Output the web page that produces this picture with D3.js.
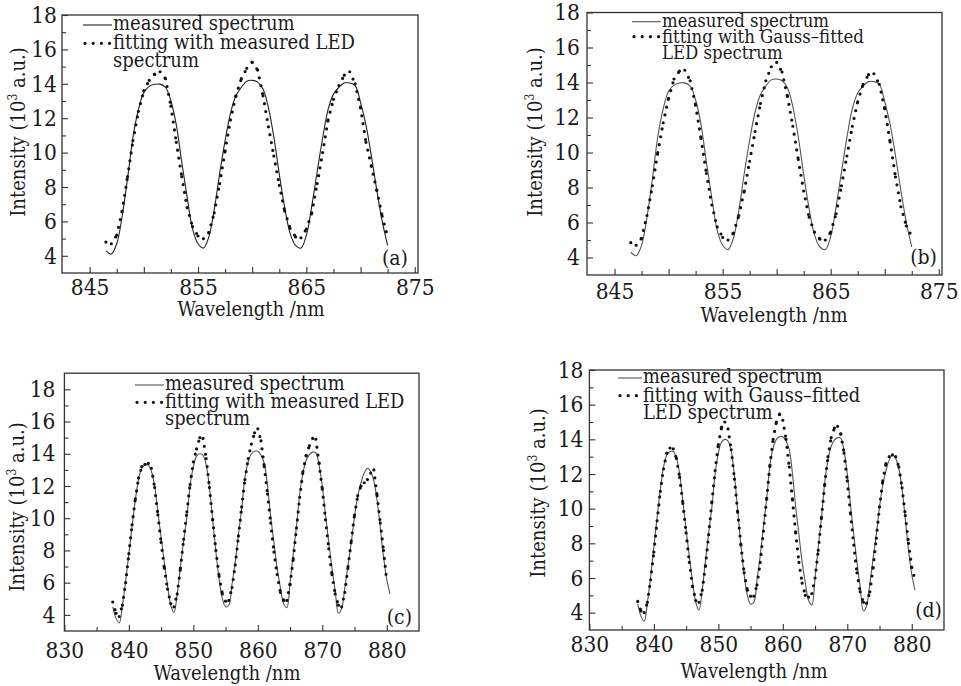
<!DOCTYPE html>
<html>
<head>
<meta charset="utf-8">
<script src="https://cdn.jsdelivr.net/npm/d3@7"></script>
<style>
  body { margin: 0; background: #fff; }
  svg { display: block; }
  text { font-family: "DejaVu Serif Condensed", "DejaVu Serif", serif; font-stretch: condensed; fill: #1a1a1a; }
</style>
</head>
<body>
<div id="wrapper"></div>
<script>

// ---- data: panels (a),(b) share one measured spectrum, (c),(d) another ----
const wavelengthAB = [846.5, 847, 847.5, 848, 848.5, 849, 849.5, 850, 850.5, 851,
  851.5, 852, 852.5, 853, 853.5, 854, 854.5, 855, 855.5, 856,
  856.5, 857, 857.5, 858, 858.5, 859, 859.5, 860, 860.5, 861,
  861.5, 862, 862.5, 863, 863.5, 864, 864.5, 865, 865.5, 866,
  866.5, 867, 867.5, 868, 868.5, 869, 869.5, 870, 870.5, 871,
  871.5, 872, 872.5]

const measuredAB = [4.3, 4.1, 4.7, 6.3, 8.5, 10.9, 12.5, 13.5, 13.85, 13.97,
  13.98, 13.8, 13.0, 11.6, 9.45, 7.4, 5.55, 4.7, 4.45, 5.1,
  6.7, 8.8, 10.7, 12.3, 13.3, 13.8, 14.15, 14.2, 14.1, 13.7,
  12.6, 10.9, 8.75, 6.8, 5.3, 4.6, 4.45, 5.2, 6.9, 8.9,
  10.85, 12.5, 13.4, 13.8, 14.05, 14.05, 13.9, 12.9, 11.6, 9.8,
  7.8, 6.0, 4.6]

const fitMeasuredLedA = [4.8, 4.7, 5.2, 6.6, 8.6, 10.7, 12.4, 13.6, 14.2, 14.55,
  14.7, 14.3, 12.7, 10.6, 8.6, 6.8, 5.7, 5.15, 5.0, 5.35,
  6.5, 8.2, 10.1, 11.9, 13.3, 14.3, 14.9, 15.25, 14.8, 13.3,
  11.5, 9.8, 8.1, 6.6, 5.6, 5.1, 5.05, 5.55, 6.5, 8.2,
  10.0, 11.9, 13.1, 13.9, 14.5, 14.7, 14.0, 12.6, 10.6, 9.2,
  7.8, 6.3, 5.1]

const fitGaussLedB = [4.85, 4.7, 5.1, 6.4, 8.1, 10.0, 11.7, 13.1, 14.2, 14.65,
  14.7, 14.1, 12.7, 10.8, 8.8, 7.0, 5.75, 5.15, 5.0, 5.4,
  6.4, 7.8, 9.5, 11.2, 12.8, 14.1, 14.9, 15.15, 14.6, 13.2,
  11.5, 9.6, 7.8, 6.3, 5.45, 5.05, 5.0, 5.45, 6.5, 8.1,
  9.8, 11.5, 12.9, 13.9, 14.45, 14.5, 13.9, 12.5, 10.6, 8.6,
  6.9, 5.8, 5.2]

const wavelengthCD = [837.5, 838, 838.5, 839, 839.5, 840, 840.5, 841, 841.5, 842,
  842.5, 843, 843.5, 844, 844.5, 845, 845.5, 846, 846.5, 847,
  847.5, 848, 848.5, 849, 849.5, 850, 850.5, 851, 851.5, 852,
  852.5, 853, 853.5, 854, 854.5, 855, 855.5, 856, 856.5, 857,
  857.5, 858, 858.5, 859, 859.5, 860, 860.5, 861, 861.5, 862,
  862.5, 863, 863.5, 864, 864.5, 865, 865.5, 866, 866.5, 867,
  867.5, 868, 868.5, 869, 869.5, 870, 870.5, 871, 871.5, 872,
  872.5, 873, 873.5, 874, 874.5, 875, 875.5, 876, 876.5, 877,
  877.5, 878, 878.5, 879, 879.5, 880, 880.5]

const measuredCD = [4.5, 3.8, 3.5, 4.6, 6.1, 7.8, 9.5, 11.1, 12.4, 13.1,
  13.3, 13.3, 12.9, 12.0, 10.4, 8.8, 7.25, 5.8, 4.6, 4.15,
  5.3, 7.0, 8.6, 10.1, 12.0, 13.2, 13.85, 14.0, 13.9, 13.3,
  11.9, 9.9, 7.9, 6.2, 5.0, 4.5, 4.6, 5.9, 7.3, 9.0,
  10.6, 12.5, 13.5, 14.0, 14.15, 14.15, 13.9, 13.4, 12.0, 10.1,
  8.5, 6.9, 5.7, 4.7, 4.45, 6.0, 7.8, 9.5, 11.5, 12.8,
  13.6, 13.95, 14.1, 14.05, 13.3, 12.0, 10.2, 8.5, 6.9, 5.5,
  4.1, 4.4, 5.7, 7.1, 8.5, 10.1, 11.35, 12.2, 12.8, 13.1,
  12.9, 12.3, 11.1, 9.4, 7.6, 6.2, 5.3]

const fitMeasuredLedC = [4.8, 4.1, 3.9, 4.6, 6.0, 7.8, 9.6, 11.2, 12.5, 13.2,
  13.35, 13.4, 13.1, 11.9, 10.2, 8.5, 6.9, 5.6, 4.7, 4.5,
  5.3, 6.9, 8.7, 10.4, 12.1, 13.5, 14.3, 15.0, 14.95, 13.7,
  11.9, 9.9, 8.0, 6.4, 5.3, 4.85, 4.9, 5.7, 7.1, 8.9,
  10.7, 12.4, 13.7, 14.6, 15.3, 15.55, 14.8, 13.2, 11.5, 9.7,
  7.9, 6.5, 5.4, 4.9, 4.9, 5.9, 7.5, 9.4, 11.3, 12.9,
  13.9, 14.5, 14.95, 14.9, 13.4, 11.8, 9.9, 8.1, 6.5, 5.3,
  4.6, 4.5, 5.4, 7.0, 8.6, 10.2, 11.4, 12.0, 12.2, 12.4,
  12.8, 13.0, 11.4, 9.7, 8.0, 6.1]

const fitGaussLedD = [4.65, 4.1, 4.0, 4.6, 5.9, 7.5, 9.3, 11.0, 12.3, 13.2,
  13.5, 13.45, 12.9, 11.8, 10.3, 8.6, 6.9, 5.5, 4.7, 4.6,
  5.3, 6.7, 8.5, 10.4, 12.2, 13.7, 14.7, 15.0, 14.6, 13.4,
  11.7, 9.8, 7.9, 6.3, 5.3, 4.95, 4.95, 5.6, 6.9, 8.7,
  10.6, 12.5, 14.0, 15.0, 15.45, 15.1, 14.0, 12.4, 10.5, 8.6,
  6.9, 5.7, 5.0, 4.9, 5.1, 6.0, 7.6, 9.5, 11.4, 13.0,
  14.1, 14.65, 14.75, 14.3, 13.2, 11.6, 9.7, 7.9, 6.3, 5.2,
  4.6, 4.55, 5.2, 6.6, 8.3, 10.1, 11.6, 12.6, 13.0, 13.1,
  13.0, 12.4, 11.2, 9.6, 8.0, 6.6, 5.9]

// ---- ticks ----
const xLabelsAB = [845, 855, 865, 875]
const xMidAB = [850, 860, 870]
const xMinorAB = [847.5, 852.5, 857.5, 862.5, 867.5, 872.5]
const xLabelsCD = [830, 840, 850, 860, 870, 880]
const xMinorCD = [835, 845, 855, 865, 875]
const yLabels = [4, 6, 8, 10, 12, 14, 16, 18]
const yMinor = [5, 7, 9, 11, 13, 15, 17]

const legendMeasuredLed = ['measured spectrum', 'fitting with measured LED', 'spectrum']
const legendGaussLed = ['measured spectrum', 'fitting with Gauss\u2013fitted', 'LED spectrum']

const svg = d3.select('#wrapper')
  .append('svg')
    .attr('width', 961)
    .attr('height', 686)

function drawPanel(p) {
  const xScale = d3.scaleLinear().domain(p.xDomain).range([p.left, p.right])
  const yScale = d3.scaleLinear().domain(p.yDomain).range([p.bottom, p.top])
  const g = svg.append('g')

  // axes (ticks point inward)
  const xAxisG = (axis) => g.append('g')
      .attr('transform', `translate(0,${p.bottom})`)
      .call(axis)
  xAxisG(d3.axisBottom(xScale).tickValues(p.xMinor).tickSize(-4).tickFormat(''))
  if (p.xMid) xAxisG(d3.axisBottom(xScale).tickValues(p.xMid).tickSize(-6).tickFormat(''))
  xAxisG(d3.axisBottom(xScale).tickValues(p.xLabels).tickSize(-6)
      .tickPadding(p.xPad).tickFormat(d3.format('d')))

  const yAxisG = (axis) => g.append('g')
      .attr('transform', `translate(${p.left},0)`)
      .call(axis)
  yAxisG(d3.axisLeft(yScale).tickValues(yMinor).tickSize(-4).tickFormat(''))
  yAxisG(d3.axisLeft(yScale).tickValues(yLabels).tickSize(-6)
      .tickPadding(p.yPad).tickFormat(d3.format('d')))

  g.selectAll('.domain').remove()
  g.selectAll('.tick line').attr('stroke', '#333').attr('stroke-width', 1.1)
  g.selectAll('.tick text')
      .attr('font-family', '"DejaVu Serif", serif')
      .attr('font-size', 22.5)
      .style('font-stretch', 'normal')
      .attr('fill', '#1a1a1a')

  // frame
  g.append('rect')
      .attr('x', p.left)
      .attr('y', p.top)
      .attr('width', p.right - p.left)
      .attr('height', p.bottom - p.top)
      .attr('fill', 'none')
      .attr('stroke', '#333')
      .attr('stroke-width', 1.3)

  // measured spectrum
  const measPts = p.meas.map((v, i) => [p.wl[i], v])
  const line = d3.line()
      .x(d => xScale(d[0]))
      .y(d => yScale(d[1]))
      .curve(d3.curveCatmullRom.alpha(0.5))
  g.append('path')
      .datum(measPts)
      .attr('d', line)
      .attr('fill', 'none')
      .attr('stroke', p.measColor)
      .attr('stroke-width', 1.1)

  // fitted spectrum, dotted segment by segment
  const fitPts = p.fit.map((v, i) => [p.wl[i], v])
  g.append('g')
    .selectAll('line')
    .data(d3.pairs(fitPts))
    .join('line')
      .attr('x1', d => xScale(d[0][0]))
      .attr('y1', d => yScale(d[0][1]))
      .attr('x2', d => xScale(d[1][0]))
      .attr('y2', d => yScale(d[1][1]))
      .attr('stroke', '#111')
      .attr('stroke-width', 3.2)
      .attr('stroke-linecap', 'round')
      .attr('stroke-dasharray', '0 8')

  // legend
  const lg = p.legend
  g.append('line')
      .attr('x1', lg.x0).attr('x2', lg.x1)
      .attr('y1', lg.y[0] - 5).attr('y2', lg.y[0] - 5)
      .attr('stroke', p.measColor).attr('stroke-width', 1.1)
  g.append('line')
      .attr('x1', lg.x0 + 2).attr('x2', lg.x1 - 1)
      .attr('y1', lg.y[1] - 6).attr('y2', lg.y[1] - 6)
      .attr('stroke', '#111').attr('stroke-width', 3.2)
      .attr('stroke-linecap', 'round').attr('stroke-dasharray', '0 8.2')
  g.selectAll('.legend-text')
    .data(p.legendText)
    .join('text')
      .attr('class', 'legend-text')
      .attr('x', lg.x1 + 1)
      .attr('y', (d, i) => lg.y[i])
      .attr('font-size', lg.size)
      .text(d => d)

  // axis titles
  g.append('text')
      .attr('x', p.xTitle[0])
      .attr('y', p.xTitle[1])
      .attr('text-anchor', 'middle')
      .attr('font-size', 20)
      .text('Wavelength /nm')

  const yt = g.append('text')
      .attr('transform', `translate(${p.yTitle[0]},${p.yTitle[1]}) rotate(-90)`)
      .attr('text-anchor', 'middle')
      .attr('dy', '0.35em')
      .attr('font-size', 20)
  yt.append('tspan').text('Intensity (10')
  yt.append('tspan').attr('font-size', 12).attr('dy', -8).text('3')
  yt.append('tspan').attr('dy', 8).text(' a.u.)')

  // panel letter
  g.append('text')
      .attr('x', p.letter[0])
      .attr('y', p.letter[1])
      .attr('text-anchor', 'end')
      .attr('font-size', 21)
      .text(p.letterText)
}

drawPanel({
  left: 62, right: 418, top: 15, bottom: 273,
  xDomain: [842.45, 875.3], yDomain: [3, 18],
  xLabels: xLabelsAB, xMid: xMidAB, xMinor: xMinorAB,
  xPad: 6.5, yPad: 5,
  wl: wavelengthAB, meas: measuredAB, fit: fitMeasuredLedA, measColor: '#222',
  legend: { x0: 83, x1: 112, y: [30, 49.3, 66.7], size: 20 },
  legendText: legendMeasuredLed,
  xTitle: [251, 316], yTitle: [18, 132],
  letter: [408, 265], letterText: '(a)'
})

drawPanel({
  left: 587, right: 942, top: 12.5, bottom: 275,
  xDomain: [842.45, 875.3], yDomain: [3, 18],
  xLabels: xLabelsAB, xMid: xMidAB, xMinor: xMinorAB,
  xPad: 8, yPad: 7,
  wl: wavelengthAB, meas: measuredAB, fit: fitGaussLedB, measColor: '#555',
  legend: { x0: 632, x1: 661, y: [26.7, 42.7, 59.3], size: 18.4 },
  legendText: legendGaussLed,
  xTitle: [774, 322], yTitle: [535, 132],
  letter: [937, 264], letterText: '(b)'
})

drawPanel({
  left: 64.4, right: 419, top: 373.2, bottom: 631,
  xDomain: [830, 885], yDomain: [3, 19],
  xLabels: xLabelsCD, xMid: null, xMinor: xMinorCD,
  xPad: 11, yPad: 9,
  wl: wavelengthCD, meas: measuredCD, fit: fitMeasuredLedC, measColor: '#555',
  legend: { x0: 135, x1: 164, y: [390, 408.3, 425], size: 19.8 },
  legendText: legendMeasuredLed,
  xTitle: [227, 680], yTitle: [17, 507],
  letter: [412, 624], letterText: '(c)'
})

drawPanel({
  left: 589.4, right: 944, top: 370, bottom: 630,
  xDomain: [830, 885], yDomain: [3, 18],
  xLabels: xLabelsCD, xMid: null, xMinor: xMinorCD,
  xPad: 5.7, yPad: 6,
  wl: wavelengthCD, meas: measuredCD, fit: fitGaussLedD, measColor: '#555',
  legend: { x0: 618, x1: 642, y: [383, 401.7, 419.3], size: 19.8 },
  legendText: legendGaussLed,
  xTitle: [754, 678], yTitle: [538, 493],
  letter: [942, 617], letterText: '(d)'
})

</script>
</body>
</html>
